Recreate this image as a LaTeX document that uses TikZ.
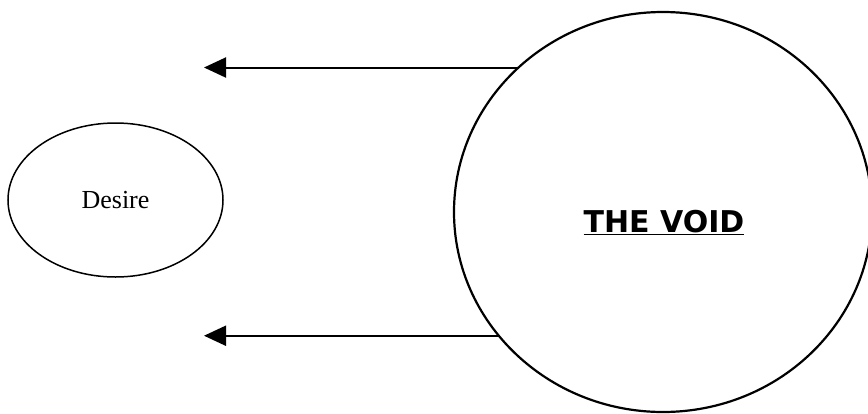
\documentclass[tikz,border=0pt]{standalone}
\usepackage{fontspec}
\setmainfont{Liberation Serif}
\newfontfamily\voidfont{DejaVu Sans}
\usetikzlibrary{arrows.meta,shapes.geometric}
\begin{document}
\begin{tikzpicture}[x=1pt,y=-1pt,
  blob/.style={draw=black, ellipse, inner sep=0pt, outer sep=0pt},
  ray/.style={draw=black, line width=2pt, -{Triangle[length=22pt,width=20pt]}}]
\useasboundingbox (0,0) rectangle (868,413);
\node[blob, line width=1.5pt, minimum width=215pt, minimum height=154pt,
      font=\fontsize{26}{30}\selectfont] (desire) at (115.5,200) {Desire};
\node[blob, line width=2.2pt, minimum width=418pt, minimum height=400pt] (void) at (663,212) {};
\node[anchor=base, inner sep=0pt, font=\voidfont\bfseries\fontsize{30}{34}\selectfont] (title) at (664,232) {\underline{THE VOID}};
\coordinate (t1) at (204,68);
\coordinate (t2) at (204,337);
\draw[ray] (void.135.2) -- (void.135.2 -| t1);
\draw[ray] (void.217.45) -- (void.217.45 -| t2);
\end{tikzpicture}
\end{document}
